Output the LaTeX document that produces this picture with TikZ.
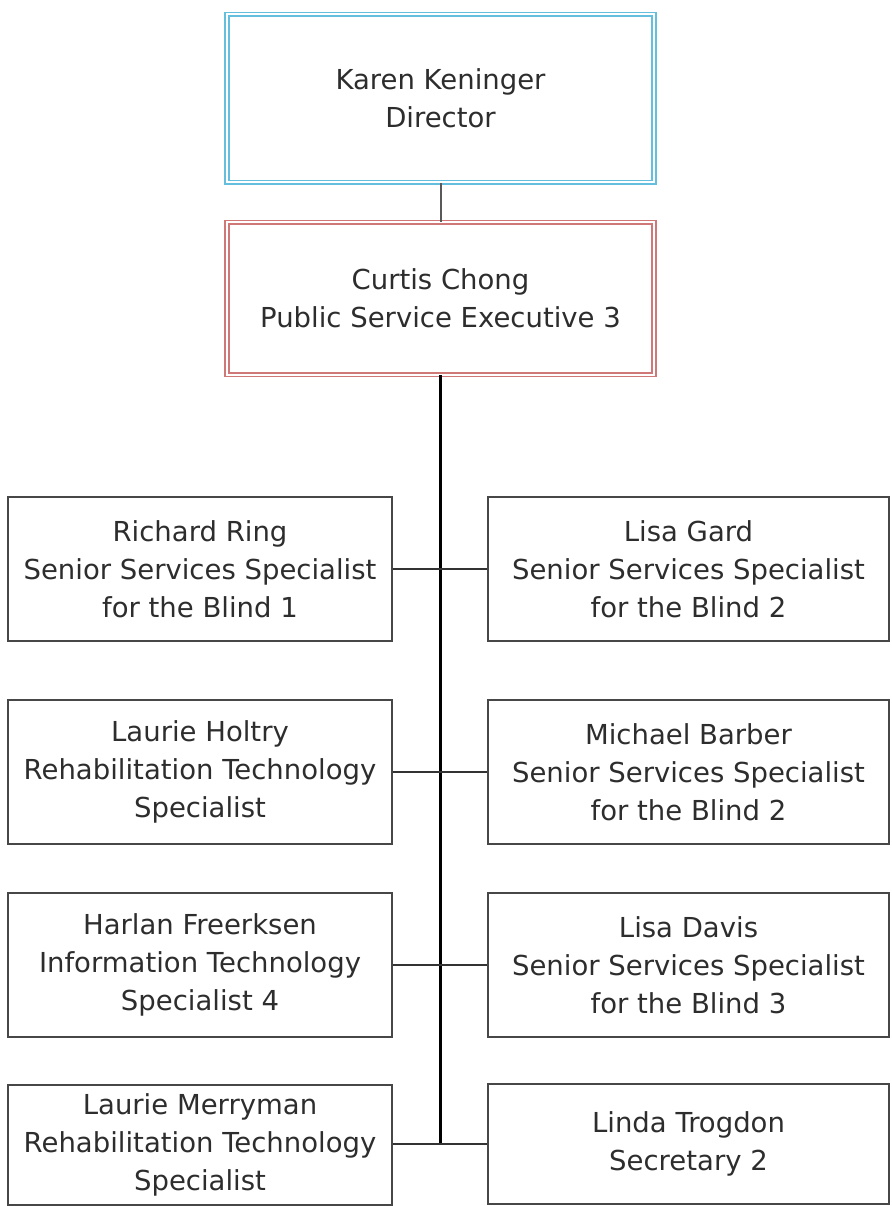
\documentclass[tikz,border=0pt]{standalone}
\usepackage{fontspec}
\setmainfont{DejaVu Sans}
\usetikzlibrary{positioning}
\definecolor{lBlue}{RGB}{100,190,222}
\definecolor{lRed}{RGB}{208,120,120}
\definecolor{tGray}{RGB}{45,45,45}

\begin{document}
\begin{tikzpicture}[x=1pt,y=-1pt,
  box/.style={draw=black!72,line width=1.4pt,align=center,inner sep=0pt,text=tGray,font=\fontsize{27.5}{38}\selectfont},
  lbox/.style={box,minimum width=384pt,minimum height=144pt},
  rbox/.style={box,minimum width=401pt,minimum height=144pt},
  head/.style={box,minimum width=427pt,double=white,double distance=2pt,line width=1.7pt},
  ln/.style={line width=1.4pt,black!80}]
\useasboundingbox (0,0) rectangle (891,1206);
\node[head,draw=lBlue,minimum height=168pt] (dir) at (440.5,98.5) {Karen Keninger\\Director};
\node[head,draw=lRed,minimum height=152pt] (pse) at (440.5,298.5) {Curtis Chong\\Public Service Executive 3};
\node[lbox] (l1) at (200,569) {Richard Ring\\Senior Services Specialist\\for the Blind 1};
\node[rbox] (r1) at (688.5,569) {Lisa Gard\\Senior Services Specialist\\for the Blind 2};
\node[lbox] (l2) at (200,772) {Laurie Holtry\\Rehabilitation Technology\\Specialist};
\node[rbox] (r2) at (688.5,772) {Michael Barber\\Senior Services Specialist\\for the Blind 2};
\node[lbox] (l3) at (200,965) {Harlan Freerksen\\Information Technology\\Specialist 4};
\node[rbox] (r3) at (688.5,965) {Lisa Davis\\Senior Services Specialist\\for the Blind 3};
\node[lbox,minimum height=120pt] (l4) at (200,1145) {Laurie Merryman\\Rehabilitation Technology\\Specialist};
\node[rbox,minimum height=120pt] (r4) at (688.5,1144) {Linda Trogdon\\Secretary 2};
\coordinate (end) at (440.5,1144);
\draw[line width=2pt,black!65] (dir.south) -- (pse.north);
\draw[line width=2.8pt] (pse.south) -- (end);
\foreach \x/\y in {l1/r1,l2/r2,l3/r3} \draw[ln] (\x) -- (\y);
\draw[ln] (l4.east |- end) -- (r4.west |- end);
\end{tikzpicture}
\end{document}
